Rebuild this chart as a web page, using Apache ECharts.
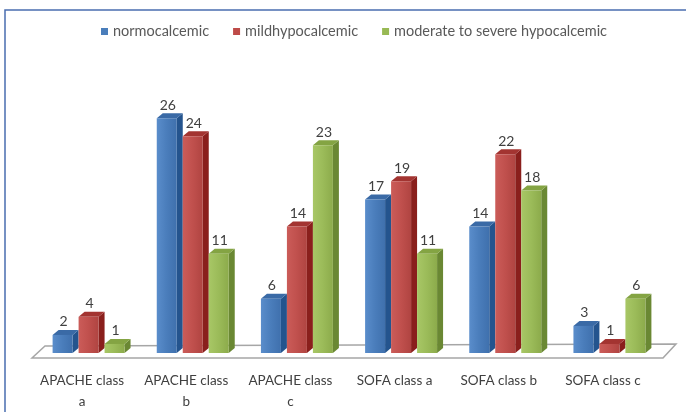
<!DOCTYPE html>
<html><head><meta charset="utf-8">
<script src="https://cdn.jsdelivr.net/npm/echarts@6/dist/echarts.min.js"></script>
<style>html,body{margin:0;padding:0;background:#fff}#c{width:686px;height:412px}</style>
</head><body><div id="c"></div>
<script>
const categories = ['APACHE class a','APACHE class b','APACHE class c','SOFA class a','SOFA class b','SOFA class c'];
const seriesNames = ['normocalcemic','mildhypocalcemic','moderate to severe hypocalcemic'];
const normocalcemic = [2,26,6,17,14,3];
const mildhypocalcemic = [4,24,14,19,22,1];
const moderateSevere = [1,11,23,11,18,6];
const seriesValues = [normocalcemic, mildhypocalcemic, moderateSevere];

const palette = [
  {front:['#5a8dcb','#4a7dbb','#3f70ad'], side:'#24548e', top:'#3a6aa6', legend:'#4a7ebb'},
  {front:['#cb5c59','#c0504d','#b04441'], side:'#8a1f1c', top:'#a33431', legend:'#be4b48'},
  {front:['#a8c766','#9bbb59','#8cab4b'], side:'#6a8833', top:'#84a443', legend:'#98b954'}
];
const FONT = 'Lato';

function makeRender(si){
  return function(params, api){
    const ci = api.value(0), v = api.value(1);
    const band = api.size([1,0])[0];
    const top = api.coord([ci, v]);
    const base = api.coord([ci, 0]);
    const w = band*20/104.2;
    const off = (si-1)*band*26/104.2;
    const sx = 6.5, sy = -5;
    const dx = 6, dy = -5;
    const x0 = top[0] + off + sx - w/2;
    const x1 = x0 + w;
    const yT = top[1] + sy, yB = base[1] + sy;
    const p = palette[si];
    return {type:'group', children:[
      {type:'polygon', shape:{points:[[x1,yB],[x1+dx,yB+dy],[x1+dx,yT+dy],[x1,yT]]}, style:{fill:p.side}},
      {type:'polygon', shape:{points:[[x0,yT],[x0+dx,yT+dy],[x1+dx,yT+dy],[x1,yT]]}, style:{fill:p.top}},
      {type:'rect', shape:{x:x0,y:yT,width:w,height:yB-yT}, style:{fill:new echarts.graphic.LinearGradient(0,0,1,0,[{offset:0,color:p.front[0]},{offset:0.5,color:p.front[1]},{offset:1,color:p.front[2]}])}},
      {type:'text', style:{text:String(v), x:(x0+x1)/2+1, y:yT+dy-1, align:'center', verticalAlign:'bottom', fill:'#404040', font:'14px '+FONT}}
    ]};
  };
}

const series = [{
  type:'custom', name:'floor', silent:true, z:1,
  data:[[0,0]],
  renderItem:function(params, api){
    const cs = params.coordSys;
    const b = cs.y + cs.height, l = cs.x, r = cs.x + cs.width;
    return {type:'polygon', shape:{points:[[l+2,b],[r+8,b],[r+21,b-14],[l+15,b-12]]},
      style:{fill:'#fff', stroke:'#a6a6a6', lineWidth:1.5}};
  }
}];
seriesValues.forEach((vals, si) => {
  series.push({
    type:'custom', name:seriesNames[si], z:2,
    itemStyle:{color:palette[si].legend},
    data: vals.map((v,i)=>[i,v]),
    encode:{x:0,y:1},
    renderItem: makeRender(si)
  });
});

const chart = echarts.init(document.getElementById('c'));
chart.setOption({
  backgroundColor:'#fff',
  animation:false,
  graphic:[{type:'rect', shape:{x:5,y:10,width:720,height:440}, style:{fill:null, stroke:'#4a6db0', lineWidth:1.5}, z:10}],
  legend:{
    data:seriesNames, left:96, top:19, icon:'rect', itemWidth:7, itemHeight:7, itemGap:24,
    textStyle:{color:'#595959', fontSize:14.5, fontFamily:FONT}
  },
  grid:{left:30, right:31, top:87, bottom:54},
  xAxis:{type:'category', data:categories,
    axisLine:{show:false}, axisTick:{show:false}, splitLine:{show:false},
    axisLabel:{margin:12, color:'#404040', fontSize:13.5, fontFamily:FONT, lineHeight:21, interval:0,
      formatter:v=>v.replace(/^(APACHE class) /,'$1\n')}},
  yAxis:{type:'value', min:0, max:30, show:false, splitLine:{show:false}},
  series:series
});
</script></body></html>
